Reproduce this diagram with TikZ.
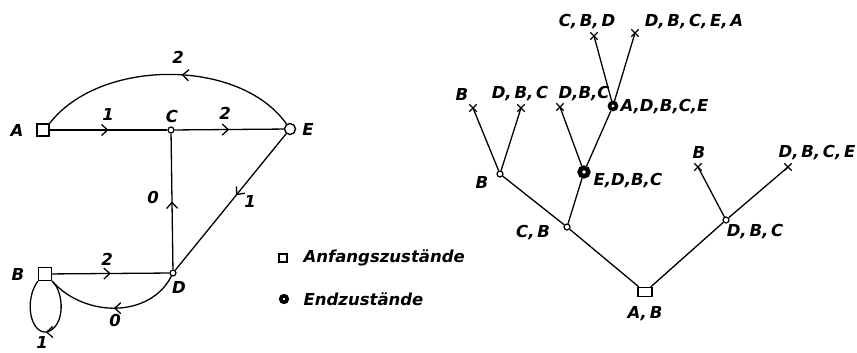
\documentclass[tikz,border=0pt]{standalone}
\usepackage{fontspec}
\setsansfont{DejaVu Sans}
\usetikzlibrary{arrows.meta,decorations.markings,shapes.misc}

\begin{document}
\begin{tikzpicture}[
  x=1pt, y=-1pt,
  font=\sffamily\bfseries\itshape\fontsize{16.5}{19}\selectfont,
  line width=1.3pt,
  start/.style  = {draw, rectangle, minimum size=12pt, inner sep=0pt, line width=1.3pt},
  state/.style  = {draw, circle, minimum size=6pt, inner sep=0pt, line width=1.2pt, fill=white},
  goal/.style   = {draw, circle, minimum size=11pt, inner sep=0pt, line width=1.4pt},
  final/.style  = {draw, circle, minimum size=7pt, inner sep=0pt, line width=3.6pt},
  leaf/.style   = {draw, cross out, minimum size=6pt, inner sep=0pt, line width=1.4pt},
  txt/.style    = {inner sep=0pt},
  mid/.style    = {postaction={decorate, decoration={markings,
                   mark=at position #1 with {\arrow{Straight Barb[length=6pt,width=11pt]}}}}},
  mid/.default  = 0.5,
]
\useasboundingbox (0,0) rectangle (857,353);

%% --- graph of states ---
\node[start] (A) at (43,130) {};
\node[state] (C) at (171,130) {};
\node[goal]  (E) at (290,129) {};
\node[start, minimum size=13pt] (B) at (45,274) {};
\node[state] (D) at (173,273) {};
\coordinate (loopbot) at (47,332);

\node[txt] (lA) at (17,130) {A};
\node[txt] (lC) at (172,116) {C};
\node[txt] (lE) at (308,129) {E};
\node[txt] (lB) at (18,274) {B};
\node[txt] (lD) at (179,287) {D};

%% --- edges with weights ---
\draw[mid] (A) -- (C);
\draw[mid] (C) -- (E);
\draw[mid=0.45] (E) .. controls (240,58) and (100,58) .. (A.north east);
\draw[mid] (D) -- (C);
\draw[mid=0.45] (E) -- (D);
\draw[mid] (B) -- (D);
\draw[mid] (D) .. controls (150,318) and (85,318) .. (B.south east);
\draw[mid] (B.south east) .. controls (64,292) and (66,326) .. (loopbot)
           .. controls (30,334) and (24,300) .. (B.south west);

\node[txt] (wAC) at (108,114) {1};
\node[txt] (wCE) at (225,113) {2};
\node[txt] (wEA) at (178,57)  {2};
\node[txt] (wDC) at (153,197) {0};
\node[txt] (wED) at (250,201) {1};
\node[txt] (wBD) at (107,259) {2};
\node[txt] (wDB) at (115,320) {0};
\node[txt] (wBB) at (42,342)  {1};

%% --- legend ---
\node[start, minimum size=8pt, line width=1.2pt] (keystart) at (283,258) {};
\node[txt, anchor=west] (keystarttxt) at (303,258) {Anfangszust\"ande};
\node[final, minimum size=6.5pt, line width=3.6pt] (keyend) at (284,299) {};
\node[txt, anchor=west] (keyendtxt) at (303,299) {Endzust\"ande};

%% --- search tree ---
\node[start, minimum width=14pt, minimum height=9pt] (ab) at (645,292) {};
\node[state] (cb)    at (567,227) {};
\node[state] (dbc)   at (726,220) {};
\node[state] (bn)    at (500,174) {};
\node[final, minimum size=8.5pt, line width=4.6pt] (edbc) at (584,172) {};
\node[final] (adbce) at (613,106) {};

\node[leaf] (l1) at (473,108) {};
\node[leaf] (l2) at (521,108) {};
\node[leaf] (l3) at (560,107) {};
\node[leaf] (l4) at (594,36)  {};
\node[leaf] (l5) at (635,33)  {};
\node[leaf] (l6) at (698,167) {};
\node[leaf] (l7) at (788,167) {};

\node[txt] (tab)    at (645,314) {A,\,B};
\node[txt] (tcb)    at (533,233) {C,\,B};
\node[txt] (tdbc)   at (755,232) {D,\,B,\,C};
\node[txt] (tbn)    at (482,182) {B};
\node[txt, anchor=west] (tedbc)  at (593,181) {E,D,B,C};
\node[txt, anchor=west] (tadbce) at (620,107) {A,D,B,C,E};
\node[txt] (tl1) at (462,94)  {B};
\node[txt] (tl2) at (520,94)  {D,\,B,\,C};
\node[txt] (tl3) at (584,94)  {D,B,C};
\node[txt] (tl4) at (587,22)  {C,\,B,\,D};
\node[txt] (tl5) at (694,22)  {D,\,B,\,C,\,E,\,A};
\node[txt] (tl6) at (699,152) {B};
\node[txt, anchor=east] (tl7) at (856,153) {D,\,B,\,C,\,E};

\draw (ab) -- (cb);
\draw (ab) -- (dbc);
\draw (cb) -- (bn);
\draw (cb) -- (edbc);
\draw (bn) -- (l1.center);
\draw (bn) -- (l2.center);
\draw (edbc) -- (l3.center);
\draw (edbc) -- (adbce);
\draw (adbce) -- (l4.center);
\draw (adbce) -- (l5.center);
\draw (dbc) -- (l6.center);
\draw (dbc) -- (l7.center);
\end{tikzpicture}
\end{document}
